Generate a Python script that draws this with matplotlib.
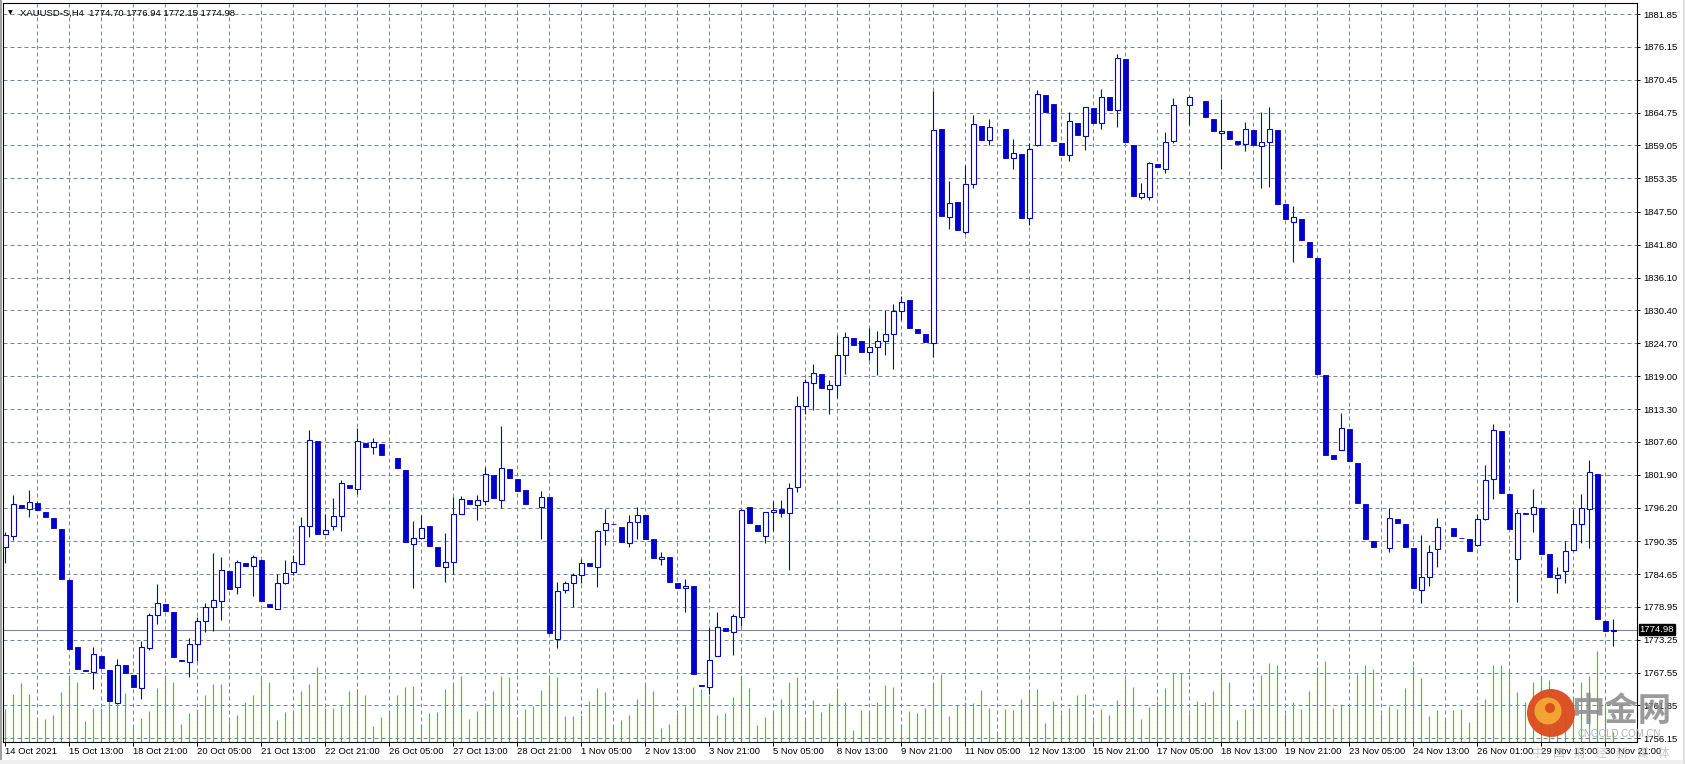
import matplotlib
matplotlib.use('Agg')
import matplotlib.pyplot as plt
from matplotlib.patches import Ellipse, Rectangle
import numpy as np

# XAUUSD-S H4 bars
opens = [1789.35, 1791.31, 1796.66, 1795.91, 1797.06, 1795.51, 1794.30, 1792.40, 1783.59, 1772.02,
         1767.95, 1767.65, 1770.41, 1767.99, 1762.29, 1768.91, 1767.19, 1764.88, 1771.91, 1777.49,
         1779.39, 1778.01, 1769.78, 1769.37, 1772.48, 1776.45, 1778.87, 1779.91, 1785.26, 1782.33,
         1786.64, 1786.01, 1787.16, 1779.45, 1778.64, 1783.19, 1785.09, 1786.47, 1793.03, 1807.72,
         1791.65, 1793.03, 1794.76, 1800.12, 1799.42, 1807.43, 1806.68, 1807.25, 1805.00, 1804.84,
         1802.76, 1789.93, 1790.96, 1792.92, 1789.29, 1785.90, 1786.82, 1795.11, 1797.58, 1796.66,
         1797.35, 1801.90, 1797.52, 1802.94, 1801.15, 1799.25, 1796.50, 1796.32, 1798.04, 1773.46,
         1781.81, 1783.19, 1784.57, 1786.64, 1785.95, 1792.34, 1793.36, 1792.86, 1790.04, 1793.73,
         1794.99, 1790.67, 1787.28, 1787.57, 1783.08, 1782.15, 1782.56, 1765.40, 1765.06, 1770.52,
         1775.25, 1774.55, 1777.26, 1796.37, 1793.21, 1791.31, 1795.40, 1796.00, 1795.20, 1799.80,
         1813.74, 1817.77, 1819.38, 1816.74, 1817.43, 1822.61, 1825.54, 1825.03, 1823.13, 1823.99,
         1825.14, 1826.24, 1830.38, 1832.17, 1827.16, 1826.29, 1824.68, 1861.87, 1846.62, 1849.26,
         1844.03, 1852.32, 1862.50, 1859.91, 1862.00, 1861.87, 1856.81, 1857.55, 1846.50, 1859.05,
         1867.80, 1866.25, 1859.51, 1857.38, 1862.97, 1860.66, 1865.56, 1862.91, 1867.46, 1865.15,
         1873.96, 1859.11, 1850.13, 1850.13, 1855.89, 1854.96, 1859.80, 1866.00, 1866.02, 1867.00,
         1866.77, 1863.66, 1861.24, 1861.47, 1859.86, 1859.28, 1861.70, 1858.88, 1859.57, 1861.70,
         1848.92, 1845.75, 1846.33, 1842.36, 1839.42, 1819.21, 1805.39, 1806.20, 1809.88, 1804.01,
         1796.76, 1790.37, 1789.30, 1789.12, 1794.19, 1793.32, 1789.18, 1781.81, 1784.23, 1789.06,
         1792.70, 1792.63, 1790.99, 1790.67, 1789.75, 1794.13, 1801.21, 1809.50, 1798.50, 1787.34,
         1795.20, 1795.00, 1796.09, 1788.14, 1783.94, 1785.15, 1788.78, 1793.27, 1796.03, 1802.07,
         1776.57, 1774.70]
highs = [1791.94, 1798.45, 1796.66, 1799.31, 1797.18, 1795.51, 1794.30, 1792.40, 1783.59, 1772.02,
         1767.95, 1771.96, 1770.41, 1767.99, 1769.95, 1768.91, 1767.19, 1773.00, 1777.95, 1782.90,
         1779.39, 1778.01, 1769.78, 1773.52, 1777.26, 1779.68, 1788.37, 1787.57, 1785.26, 1787.05,
         1786.64, 1787.91, 1787.16, 1779.45, 1784.74, 1787.05, 1788.03, 1794.53, 1809.67, 1807.72,
         1795.11, 1797.87, 1800.98, 1800.12, 1810.08, 1807.43, 1808.29, 1807.25, 1805.00, 1804.84,
         1802.76, 1793.78, 1794.99, 1792.92, 1789.29, 1791.71, 1798.04, 1798.22, 1797.58, 1798.45,
         1803.17, 1801.90, 1810.36, 1802.94, 1801.15, 1799.25, 1796.50, 1799.14, 1798.04, 1783.36,
         1783.42, 1784.80, 1787.22, 1786.64, 1792.30, 1795.86, 1793.36, 1792.86, 1794.82, 1796.32,
         1794.99, 1790.67, 1788.43, 1787.57, 1783.08, 1783.88, 1782.56, 1765.40, 1775.25, 1778.07,
         1775.25, 1777.78, 1795.90, 1796.37, 1793.21, 1795.50, 1797.29, 1797.50, 1800.50, 1815.58,
         1818.47, 1821.11, 1819.38, 1818.35, 1826.12, 1826.58, 1825.54, 1825.03, 1827.33, 1826.81,
         1830.44, 1831.48, 1832.86, 1832.17, 1827.16, 1826.29, 1868.43, 1861.87, 1852.89, 1849.26,
         1855.65, 1864.29, 1862.50, 1863.71, 1862.00, 1861.87, 1860.14, 1857.55, 1859.45, 1868.61,
         1867.80, 1866.25, 1859.51, 1864.87, 1862.97, 1865.70, 1865.56, 1868.84, 1867.46, 1874.83,
         1873.96, 1859.11, 1852.55, 1856.23, 1855.89, 1861.41, 1867.28, 1866.00, 1867.63, 1867.00,
         1866.77, 1863.66, 1867.11, 1861.47, 1859.86, 1863.14, 1861.70, 1864.81, 1865.67, 1861.70,
         1848.92, 1848.51, 1846.33, 1842.36, 1839.42, 1819.21, 1805.39, 1812.59, 1809.88, 1804.01,
         1796.76, 1790.37, 1789.30, 1796.09, 1794.19, 1793.32, 1789.18, 1791.42, 1789.70, 1794.36,
         1792.70, 1792.63, 1790.99, 1790.67, 1795.05, 1803.51, 1810.77, 1809.50, 1798.50, 1795.86,
         1795.20, 1799.37, 1796.09, 1788.14, 1785.84, 1790.33, 1795.97, 1798.50, 1804.38, 1802.07,
         1776.57, 1776.94]
lows = [1786.59, 1790.50, 1796.09, 1794.53, 1795.74, 1794.53, 1792.63, 1783.82, 1771.73, 1768.11,
        1767.85, 1764.71, 1768.34, 1762.58, 1762.20, 1767.47, 1765.00, 1762.98, 1771.39, 1775.94,
        1778.30, 1770.18, 1769.49, 1766.73, 1769.49, 1774.55, 1774.84, 1776.74, 1782.10, 1781.23,
        1786.07, 1780.89, 1780.02, 1778.87, 1778.53, 1782.90, 1784.51, 1786.40, 1791.08, 1791.60,
        1791.54, 1792.34, 1792.11, 1799.54, 1798.50, 1806.62, 1805.47, 1805.24, 1805.00, 1803.00,
        1790.21, 1782.27, 1790.90, 1789.52, 1786.07, 1783.25, 1784.69, 1795.00, 1796.78, 1794.01,
        1796.72, 1797.81, 1796.14, 1801.27, 1799.02, 1796.78, 1796.50, 1790.67, 1774.38, 1771.91,
        1781.29, 1778.99, 1783.19, 1786.07, 1782.44, 1789.70, 1793.28, 1790.21, 1789.29, 1790.67,
        1790.67, 1787.45, 1786.18, 1783.31, 1782.27, 1778.07, 1767.24, 1765.17, 1763.90, 1770.35,
        1774.84, 1770.64, 1775.65, 1793.50, 1792.11, 1790.04, 1792.11, 1794.60, 1785.40, 1798.90,
        1812.48, 1813.05, 1817.03, 1812.48, 1815.13, 1819.38, 1824.45, 1823.24, 1821.80, 1819.27,
        1822.72, 1820.31, 1828.71, 1827.39, 1826.52, 1824.97, 1822.38, 1846.73, 1844.49, 1844.31,
        1843.62, 1851.74, 1859.91, 1859.05, 1862.00, 1856.92, 1855.02, 1846.44, 1845.29, 1858.94,
        1864.92, 1859.74, 1857.32, 1856.29, 1860.78, 1858.19, 1862.85, 1861.81, 1865.27, 1862.16,
        1859.57, 1850.24, 1849.73, 1849.55, 1855.25, 1854.22, 1859.40, 1866.00, 1862.62, 1867.00,
        1863.89, 1861.47, 1855.02, 1860.09, 1859.22, 1858.02, 1859.11, 1851.57, 1851.91, 1848.80,
        1846.21, 1838.73, 1842.59, 1839.65, 1819.44, 1805.28, 1804.70, 1806.10, 1804.24, 1796.99,
        1790.77, 1789.39, 1789.30, 1788.54, 1793.55, 1789.41, 1782.15, 1779.56, 1782.50, 1785.95,
        1792.70, 1791.25, 1790.87, 1788.72, 1789.52, 1794.00, 1797.70, 1798.73, 1792.52, 1779.74,
        1795.12, 1792.00, 1788.20, 1784.23, 1781.35, 1783.08, 1788.70, 1789.98, 1789.24, 1776.80,
        1774.73, 1772.15]
closes = [1791.48, 1796.83, 1796.09, 1797.18, 1795.74, 1794.53, 1792.63, 1783.82, 1771.73, 1768.11,
          1767.85, 1770.75, 1768.34, 1762.58, 1768.80, 1767.47, 1765.00, 1771.96, 1777.49, 1779.56,
          1778.30, 1770.18, 1769.49, 1772.48, 1776.45, 1778.87, 1780.08, 1785.44, 1782.10, 1786.82,
          1786.07, 1787.68, 1780.02, 1778.87, 1783.02, 1784.92, 1786.82, 1793.03, 1807.89, 1791.60,
          1792.34, 1794.76, 1800.52, 1799.54, 1807.72, 1806.62, 1807.54, 1805.24, 1805.00, 1803.00,
          1790.21, 1790.96, 1792.69, 1789.52, 1786.07, 1786.82, 1795.11, 1797.64, 1796.78, 1797.52,
          1802.02, 1797.81, 1803.05, 1801.27, 1799.02, 1796.78, 1796.50, 1798.04, 1774.38, 1781.64,
          1783.19, 1784.57, 1786.64, 1786.07, 1792.17, 1793.55, 1793.28, 1790.21, 1793.73, 1794.93,
          1790.67, 1787.45, 1787.68, 1783.31, 1782.27, 1782.56, 1767.24, 1765.17, 1769.78, 1775.42,
          1774.84, 1777.32, 1795.80, 1793.50, 1792.11, 1795.45, 1795.80, 1795.30, 1799.60, 1813.74,
          1817.95, 1819.50, 1817.03, 1817.43, 1822.61, 1825.72, 1824.45, 1823.24, 1823.99, 1825.14,
          1826.24, 1830.38, 1831.94, 1827.39, 1826.52, 1824.97, 1861.64, 1846.73, 1849.03, 1844.31,
          1852.32, 1862.68, 1859.91, 1862.16, 1862.00, 1856.92, 1857.67, 1846.44, 1858.42, 1867.92,
          1864.92, 1859.74, 1857.32, 1863.25, 1860.78, 1865.67, 1862.85, 1867.40, 1865.27, 1874.13,
          1859.57, 1850.24, 1850.82, 1856.00, 1855.25, 1859.63, 1866.02, 1866.00, 1867.40, 1867.00,
          1863.89, 1861.47, 1861.58, 1860.09, 1859.22, 1861.87, 1859.11, 1859.57, 1861.81, 1848.80,
          1846.21, 1846.62, 1842.59, 1839.65, 1819.44, 1805.28, 1804.70, 1810.00, 1804.24, 1796.99,
          1790.77, 1789.39, 1789.30, 1794.30, 1793.55, 1789.41, 1782.15, 1784.11, 1788.43, 1792.75,
          1792.70, 1791.25, 1790.87, 1788.72, 1794.13, 1801.04, 1809.67, 1798.73, 1792.52, 1795.28,
          1795.12, 1796.32, 1788.20, 1784.23, 1784.46, 1788.60, 1793.27, 1796.20, 1802.42, 1776.80,
          1774.73, 1774.98]
volumes = [32700, 48000, 59000, 48000, 21700, 23300, 26700, 50000, 66000, 60000,
           21000, 34000, 34000, 58300, 53000, 49000, 16000, 24000, 31000, 54000,
           64000, 60000, 18000, 29000, 33000, 47000, 58000, 58000, 20700, 27000,
           40000, 47000, 64000, 60000, 22000, 30000, 30000, 51000, 58000, 75000,
           34000, 34000, 36000, 51000, 53000, 47000, 16000, 25000, 30000, 47000,
           55000, 56000, 18000, 29000, 30000, 53000, 57000, 66000, 23000, 31000,
           39000, 51000, 66000, 65000, 23000, 33000, 36000, 52000, 64000, 65000,
           26000, 26000, 27000, 41000, 54000, 50000, 17000, 22000, 27000, 43000,
           57000, 51000, 14000, 18000, 28000, 36000, 55000, 53000, 47000, 27000,
           29000, 45000, 64000, 54000, 17000, 25000, 29000, 43000, 60000, 65000,
           22000, 42000, 30000, 39000, 54000, 40000, 12000, 32000, 30000, 40000,
           57000, 55000, 18000, 31000, 29000, 34000, 59000, 68000, 26000, 37000,
           40000, 39000, 52000, 34000, 10000, 33000, 32000, 43000, 52000, 53000,
           19000, 41000, 28000, 34000, 47000, 48000, 21000, 33000, 27000, 42000,
           63000, 55000, 23000, 35000, 41000, 54000, 69000, 69000, 28000, 41000,
           40000, 51000, 69000, 60000, 22000, 33000, 34000, 67000, 79000, 77000,
           28000, 40000, 33000, 51000, 75000, 81000, 34000, 38000, 35000, 68000,
           77000, 73000, 28000, 36000, 33000, 54000, 76000, 64000, 26000, 32000,
           22000, 32000, 33000, 20000, 40000, 43000, 77000, 77000, 71000, 50000,
           40000, 60000, 66000, 62000, 40000, 30000, 45000, 60000, 66000, 91000,
           35000, 10000]

time_labels = ['14 Oct 2021', '15 Oct 13:00', '18 Oct 21:00', '20 Oct 05:00', '21 Oct 13:00',
               '22 Oct 21:00', '26 Oct 05:00', '27 Oct 13:00', '28 Oct 21:00', '1 Nov 05:00',
               '2 Nov 13:00', '3 Nov 21:00', '5 Nov 05:00', '8 Nov 13:00', '9 Nov 21:00',
               '11 Nov 05:00', '12 Nov 13:00', '15 Nov 21:00', '17 Nov 05:00', '18 Nov 13:00',
               '19 Nov 21:00', '23 Nov 05:00', '24 Nov 13:00', '26 Nov 01:00', '29 Nov 13:00',
               '30 Nov 21:00']
price_ticks = [1881.85, 1876.15, 1870.45, 1864.75, 1859.05, 1853.35, 1847.50, 1841.80, 1836.10,
               1830.40, 1824.70, 1819.00, 1813.30, 1807.60, 1801.90, 1796.20, 1790.35, 1784.65,
               1778.95, 1773.25, 1767.55, 1761.85, 1756.15]
last_price = 1774.98
header = 'XAUUSD-S,H4  1774.70 1776.94 1772.15 1774.98'

W, H = 1685, 764
fs = 6.8
plt.rcParams['font.family'] = ['Liberation Sans', 'DejaVu Sans']

fig = plt.figure(figsize=(W / 100., H / 100.), dpi=100)
fig.patch.set_facecolor('white')
ax = fig.add_axes([3. / W, 22. / H, 1634. / W, 739. / H])

#Volume histogram sits on its own scale at the bottom
axv = ax.twinx()
axv.set_ylim(0, 739000)
axv.axis('off')
ax.set_zorder(axv.get_zorder() + 1)
ax.patch.set_visible(False)
ax.yaxis.tick_right()

o, h, l, c = np.array(opens), np.array(highs), np.array(lows), np.array(closes)
x = np.arange(len(c))
blue = '#0000CD'
up = c > o
down = c < o
doji = c == o

axv.vlines(x, 0, volumes, colors='#32CD32', lw=0.85)

#MT4 draws exact dojis in the line-graph colour (white here)
wick_col = [('white' if d else blue) for d in doji]
ax.vlines(x, l, h, colors=wick_col, lw=0.8, zorder=3)
ax.bar(x[up], (c - o)[up], bottom=o[up], width=0.58, color='white', edgecolor=blue, lw=0.8, zorder=4)
ax.bar(x[down], (o - c)[down], bottom=c[down], width=0.55, color=blue, edgecolor=blue, lw=0.6, zorder=4)
ax.bar(x[doji], 0, bottom=o[doji], width=0.55, color='white', edgecolor='white', lw=0.6, zorder=4)

ax.axhline(last_price, color='#778899', lw=0.8, zorder=2)

ax.set_xlim(-0.2875, 203.96)
ax.set_ylim(1755.51, 1883.76)

ax.xaxis.remove_overlapping_locs = False
ax.set_xticks(np.arange(0, 8 * len(time_labels), 8))
ax.set_xticklabels(time_labels, ha='left')
ax.set_xticks(np.arange(4, 204, 4), minor=True)
ax.set_yticks(price_ticks)
ax.set_yticklabels(['%.2f' % p for p in price_ticks])
ax.tick_params(axis='x', which='major', length=3, width=0.72, pad=0.5, labelsize=fs, colors='black')
ax.tick_params(axis='x', which='minor', length=0)
ax.tick_params(axis='y', which='major', length=2.2, width=0.72, pad=2, labelsize=fs, colors='black')

grid_kw = dict(color='#778899', lw=0.72, linestyle=(0, (4, 3)))
ax.xaxis.grid(True, which='minor', **grid_kw)
ax.yaxis.grid(True, which='major', **grid_kw)
ax.set_axisbelow(True)
for s in ax.spines.values():
    s.set_color('black')
    s.set_linewidth(0.8)

ax.annotate('%.2f' % last_price, xy=(1, last_price), xycoords=('axes fraction', 'data'),
            xytext=(2.0, 0), textcoords='offset points', ha='left', va='center',
            fontsize=fs, color='white', annotation_clip=False, zorder=10,
            bbox=dict(boxstyle='square,pad=0.12', fc='black', ec='black'))

fig.text(8. / W, 1 - 13. / H, u'\u25bc', fontsize=4.5, family='DejaVu Sans', va='center', color='black')
fig.text(20. / W, 1 - 13. / H, header, fontsize=fs, va='center', color='black')

#cngold watermark
fig.patches.append(Ellipse((1551. / W, 1 - 713. / H), 48. / W, 48. / H, transform=fig.transFigure,
                           fc='#DC4A1C', ec='none', alpha=0.95, zorder=20))
fig.patches.append(Ellipse((1548. / W, 1 - 711. / H), 27. / W, 27. / H, transform=fig.transFigure,
                           fc='#F4A834', ec='none', alpha=0.95, zorder=21))
fig.patches.append(Ellipse((1550. / W, 1 - 708. / H), 10. / W, 10. / H, transform=fig.transFigure,
                           fc='#DC4A1C', ec='none', alpha=0.95, zorder=22))
cjk = ['Noto Sans CJK SC', 'DejaVu Sans']
fig.text(1571. / W, 1 - 711. / H, u'中金网', fontsize=24, family=cjk, weight='bold',
         color='#8a8a8a', alpha=0.85, va='center', zorder=23)
fig.text(1577. / W, 1 - 734. / H, 'CNGOLD.COM.CN', fontsize=7, color='#a8a8a8', alpha=0.9,
         va='center', zorder=23)
for k, ch in enumerate(u'中国财经新媒体'):
    fig.text((1532. + 21 * k) / W, 1 - 753. / H, ch, fontsize=8.5, family=cjk, color='#b4b4b4',
             alpha=0.75, va='center', zorder=23)

#window edges of the terminal
fig.patches.append(Rectangle((0, 0), 2. / W, 1, transform=fig.transFigure, fc='#a0a0a0', ec='none'))
fig.patches.append(Rectangle((0, 0), 1, 4. / H, transform=fig.transFigure, fc='#f0f0f0', ec='none'))
fig.patches.append(Rectangle((1 - 2. / W, 0), 2. / W, 1, transform=fig.transFigure, fc='#e0e0e0', ec='none'))

fig.savefig('out.png', dpi=100)
